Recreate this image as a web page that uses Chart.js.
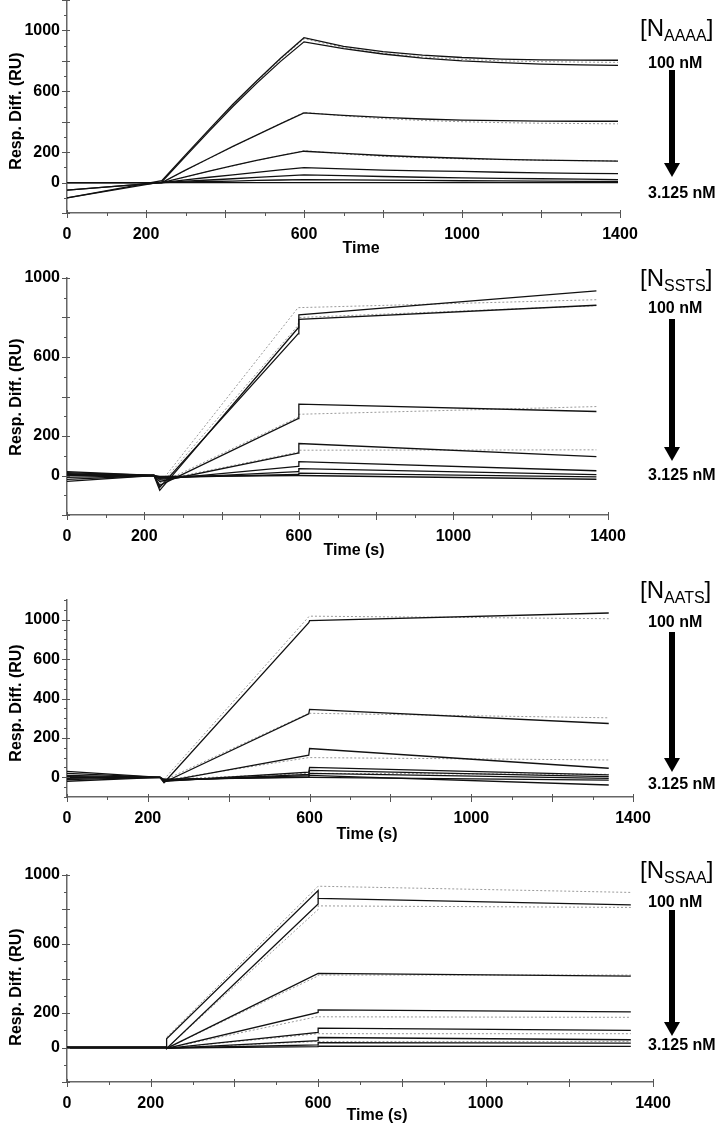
<!DOCTYPE html>
<html>
<head>
<meta charset="utf-8">
<script src="https://cdn.jsdelivr.net/npm/chart.js@4.4.0/dist/chart.umd.min.js"></script>
<style>
  body { margin: 0; background: #fff; width: 722px; height: 1123px; position: relative; overflow: hidden;
         font-family: "Liberation Sans", Arial, sans-serif; }
  canvas { position: absolute; left: 0; }
  .lbl { position: absolute; font-weight: bold; font-size: 16px; line-height: 16px; white-space: nowrap; }
  .name { position: absolute; left: 640px; font-size: 24px; line-height: 24px; white-space: nowrap; }
  .name sub { font-size: 16px; vertical-align: -5px; line-height: 0; }
  .shaft { position: absolute; left: 669px; width: 6px; background: #000; }
  .head { position: absolute; left: 664px; width: 0; height: 0;
          border-left: 8px solid transparent; border-right: 8px solid transparent; border-top: 14px solid #000; }
  .ttl { position: absolute; font-weight: bold; font-size: 16px; line-height: 16px; white-space: nowrap;
         transform: translate(-50%, -50%); }
  .ttl.rot { transform: translate(-50%, -50%) rotate(-90deg); }
</style>
</head>
<body>
<canvas id="c1" width="722" height="255"></canvas>
<canvas id="c2" width="722" height="279"></canvas>
<canvas id="c3" width="722" height="239"></canvas>
<canvas id="c4" width="722" height="249"></canvas>
<script>
// x axis (all panels)
const xTicks = [0, 100, 200, 300, 400, 500, 600, 700, 800, 900, 1000, 1100, 1200, 1300, 1400];
const xLabels = [0, 200, 600, 1000, 1400];

// ---- panel 1: N_AAAA ----
const aaaaTime = [0, 240, 300, 360, 420, 480, 540, 600, 700, 800, 900, 1000, 1100, 1200, 1300, 1395];
const aaaa100a = [-100, 12, 182, 350, 515, 668, 815, 952, 895, 860, 838, 822, 812, 807, 805, 804];
const aaaa100b = [-100, 5, 172, 338, 500, 652, 795, 925, 880, 845, 818, 800, 788, 779, 773, 770];
const aaaa50 = [-50, 0, 82, 160, 238, 312, 386, 458, 442, 428, 418, 411, 407, 404, 403, 403];
const aaaa25 = [-50, 0, 38, 76, 112, 146, 177, 206, 192, 178, 168, 160, 153, 148, 144, 141];
const aaaa12 = [0, 0, 18, 35, 51, 67, 83, 98, 90, 82, 77, 73, 68, 64, 61, 59];
const aaaa6 = [0, 0, 9, 17, 25, 34, 42, 50, 45, 40, 35, 31, 28, 25, 22, 20];
const aaaa3 = [0, 0, 4, 7, 10, 14, 17, 20, 18, 16, 14, 12, 11, 9, 8, 7];
const aaaa0 = [0, 0, 0, 0, 0, 0, 0, 0, 0, 0, 0, 0, 0, 0, 0, 0];
const aaaaObs100 = [null, 10, 178, 345, 510, 662, 808, 945, 888, 850, 826, 810, 800, 795, 792, 790];
const aaaaObs50 = [null, 0, 80, 158, 236, 312, 388, 462, 438, 420, 408, 400, 394, 390, 388, 386];
const aaaaObs25 = [null, 0, 37, 75, 110, 145, 178, 210, 188, 172, 163, 156, 151, 147, 144, 142];
const aaaaYTicks = [-200, -100, 0, 100, 200, 300, 400, 500, 600, 700, 800, 900, 1000, 1100, 1200];
const aaaaYLabels = [0, 200, 600, 1000];
const aaaaYText = ['0', '200', '600', '1000'];

// ---- panel 2: N_SSTS ----
const sstsTime = [0, 225, 240, 598, 600, 1370];
const ssts100a = [20, 0, -75, 747, 814, 935];
const ssts100b = [-30, 0, -60, 717, 791, 862];
const ssts50 = [10, 0, -50, 288, 361, 324];
const ssts25 = [0, 0, -30, 113, 162, 96];
const ssts12 = [-10, 0, -20, 46, 70, 24];
const ssts6 = [-20, 0, -15, 20, 35, 4];
const ssts3 = [5, 0, -10, 5, 12, -7];
const ssts0 = [15, 0, -5, 0, 0, -19];
const sstsObsTime = [240, 598, 600, 1370];
const sstsObs100a = [-40, 850, 850, 890];
const sstsObs100b = [-50, 760, 800, 860];
const sstsObs50 = [-40, 295, 310, 349];
const sstsObs25 = [-25, 118, 128, 130];
const sstsYTicks = [-200, -100, 0, 100, 200, 300, 400, 500, 600, 700, 800, 900, 1000];
const sstsYLabels = [0, 200, 600, 1000];
const sstsYText = ['0', '200', '600', '1000'];

// ---- panel 3: N_AATS ----
const aatsTime = [0, 230, 240, 598, 600, 1340];
const aats100 = [30, 0, -27, 785, 795, 834];
const aats50 = [20, 0, -25, 322, 345, 273];
const aats25 = [10, 0, -22, 112, 146, 46];
const aats12 = [3, 0, -20, 26, 50, 12];
const aats6 = [-5, 0, -18, 15, 35, 3];
const aats3 = [-12, 0, -15, 8, 20, -5];
const aatsB = [0, 0, -10, 0, 0, -14];
const aats0 = [-20, 0, -12, 2, 10, -39];
const aatsObsTime = [240, 598, 600, 1340];
const aatsObs100 = [-10, 815, 818, 805];
const aatsObs50 = [-15, 325, 325, 302];
const aatsObs25 = [-15, 100, 100, 88];
const aatsObs12 = [-10, 20, 20, 15];
const aatsYTicks = [-100, -50, 0, 50, 100, 150, 200, 250, 300, 350, 400, 450, 500, 550, 600, 650, 700, 750, 800, 850, 900];
const aatsYLabels = [0, 200, 400, 600, 800];
const aatsYText = ['0', '200', '400', '600', '1000'];

// ---- panel 4: N_SSAA ----
const ssaaTime = [0, 238, 238, 600, 600, 1347];
const ssaa100a = [0, 0, 50, 910, 865, 827];
const ssaa100b = [0, 0, -5, 832, 865, null];
const ssaa50 = [0, 0, -5, 430, 430, 414];
const ssaa25 = [0, 0, -5, 203, 218, 206];
const ssaa12 = [0, 0, -5, 88, 112, 99];
const ssaa6 = [0, 0, -5, 40, 58, 45];
const ssaa3 = [0, 0, -3, 15, 28, 25];
const ssaa0 = [0, 0, -3, 5, 8, 6];
const ssaaObsTime = [238, 600, 600, 1347];
const ssaaObs100a = [60, 935, 935, 899];
const ssaaObs100b = [-5, 800, 821, 812];
const ssaaObs50 = [-5, 415, 420, 420];
const ssaaObs25 = [-5, 180, 178, 175];
const ssaaObs12 = [-5, 80, 80, 80];
const ssaaObs6 = [-5, 35, 35, 35];
const ssaaYTicks = [-200, -100, 0, 100, 200, 300, 400, 500, 600, 700, 800, 900, 1000];
const ssaaYLabels = [0, 200, 600, 1000];
const ssaaYText = ['0', '200', '600', '1000'];

const FONT = '"Liberation Sans", Arial, sans-serif';
const FIT = '#111';
const OBS = '#9a9a9a';

function fit(times, vals) {
  return { data: times.map((t, i) => ({ x: t, y: vals[i] })), borderColor: FIT, borderWidth: 1.3,
           pointRadius: 0, tension: 0, fill: false, order: 0 };
}
function obs(times, vals) {
  return { data: times.map((t, i) => ({ x: t, y: vals[i] })), borderColor: OBS, borderWidth: 1,
           borderDash: [2, 2], pointRadius: 0, tension: 0, fill: false, order: 1 };
}

// small tick marks crossing the axes
const crossTicks = {
  id: 'crossTicks',
  afterDraw(chart) {
    const { ctx, scales: { x, y } } = chart;
    ctx.save();
    ctx.strokeStyle = '#555';
    ctx.lineWidth = 1;
    ctx.beginPath();
    x.ticks.forEach(t => {
      const px = Math.round(x.getPixelForValue(t.value)) + 0.5;
      const major = t.value % 200 === 0;
      ctx.moveTo(px, x.top - (major ? 3 : 0));
      ctx.lineTo(px, x.top + (major ? 5 : 3));
    });
    y.ticks.forEach(t => {
      const py = Math.round(y.getPixelForValue(t.value)) + 0.5;
      const major = t.value % 200 === 0;
      ctx.moveTo(y.right - (major ? 5 : 3), py);
      ctx.lineTo(y.right + (major ? 3 : 0), py);
    });
    ctx.stroke();
    ctx.restore();
  }
};

const panels = [
  { id: 'c1', top: 0, bottom: 213, right: 620, yMin: -200, yMax: 1200,
    yTicks: aaaaYTicks, yLabels: aaaaYLabels, yText: aaaaYText, sub: 'AAAA', xTitle: 'Time',
    xt: [361, 248], yt: 111, nameY: 30, n100: 63, n3: 193, shaft: [70, 163],
    datasets: [
      fit(aaaaTime, aaaa100a), fit(aaaaTime, aaaa100b), fit(aaaaTime, aaaa50), fit(aaaaTime, aaaa25),
      fit(aaaaTime, aaaa12), fit(aaaaTime, aaaa6), fit(aaaaTime, aaaa3), fit(aaaaTime, aaaa0),
      obs(aaaaTime, aaaaObs100), obs(aaaaTime, aaaaObs50), obs(aaaaTime, aaaaObs25)
    ] },
  { id: 'c2', top: 278, bottom: 515, right: 608, yMin: -200, yMax: 1000,
    yTicks: sstsYTicks, yLabels: sstsYLabels, yText: sstsYText, sub: 'SSTS', xTitle: 'Time (s)',
    xt: [354, 550], yt: 397, nameY: 280, n100: 308, n3: 475, shaft: [319, 447],
    datasets: [
      fit(sstsTime, ssts100a), fit(sstsTime, ssts100b), fit(sstsTime, ssts50), fit(sstsTime, ssts25),
      fit(sstsTime, ssts12), fit(sstsTime, ssts6), fit(sstsTime, ssts3), fit(sstsTime, ssts0),
      obs(sstsObsTime, sstsObs100a), obs(sstsObsTime, sstsObs100b), obs(sstsObsTime, sstsObs50),
      obs(sstsObsTime, sstsObs25)
    ] },
  { id: 'c3', top: 600, bottom: 797, right: 633, yMin: -100, yMax: 900,
    yTicks: aatsYTicks, yLabels: aatsYLabels, yText: aatsYText, sub: 'AATS', xTitle: 'Time (s)',
    xt: [367, 834], yt: 703, nameY: 592, n100: 622, n3: 784, shaft: [632, 758],
    datasets: [
      fit(aatsTime, aats100), fit(aatsTime, aats50), fit(aatsTime, aats25), fit(aatsTime, aats12),
      fit(aatsTime, aats6), fit(aatsTime, aats3), fit(aatsTime, aatsB), fit(aatsTime, aats0),
      obs(aatsObsTime, aatsObs100), obs(aatsObsTime, aatsObs50), obs(aatsObsTime, aatsObs25),
      obs(aatsObsTime, aatsObs12)
    ] },
  { id: 'c4', top: 875, bottom: 1082, right: 653, yMin: -200, yMax: 1000,
    yTicks: ssaaYTicks, yLabels: ssaaYLabels, yText: ssaaYText, sub: 'SSAA', xTitle: 'Time (s)',
    xt: [377, 1115], yt: 987, nameY: 872, n100: 902, n3: 1045, shaft: [910, 1022],
    datasets: [
      fit(ssaaTime, ssaa100a), fit(ssaaTime, ssaa100b), fit(ssaaTime, ssaa50), fit(ssaaTime, ssaa25),
      fit(ssaaTime, ssaa12), fit(ssaaTime, ssaa6), fit(ssaaTime, ssaa3), fit(ssaaTime, ssaa0),
      obs(ssaaObsTime, ssaaObs100a), obs(ssaaObsTime, ssaaObs100b), obs(ssaaObsTime, ssaaObs50),
      obs(ssaaObsTime, ssaaObs25), obs(ssaaObsTime, ssaaObs12), obs(ssaaObsTime, ssaaObs6)
    ] }
];

const PAD_TOP = 12, X_H = 30, Y_W = 67;

function addEl(cls, html, styles) {
  const d = document.createElement('div');
  d.className = cls;
  d.innerHTML = html;
  Object.assign(d.style, styles);
  document.body.appendChild(d);
}

panels.forEach(p => {
  const cv = document.getElementById(p.id);
  cv.style.top = (p.top - PAD_TOP) + 'px';

  new Chart(cv, {
    type: 'line',
    data: { datasets: p.datasets },
    plugins: [crossTicks],
    options: {
      responsive: false,
      animation: false,
      devicePixelRatio: 1,
      layout: { padding: { top: PAD_TOP, right: 722 - p.right, left: 0, bottom: 0 } },
      plugins: { legend: { display: false }, tooltip: { enabled: false } },
      scales: {
        x: {
          type: 'linear', min: 0, max: 1400,
          afterBuildTicks: s => { s.ticks = xTicks.map(v => ({ value: v })); },
          afterFit: s => { s.height = X_H; s.paddingLeft = 0; s.paddingRight = 0; },
          grid: { drawOnChartArea: false, drawTicks: false },
          border: { color: '#666', width: 1.5 },
          ticks: {
            autoSkip: false, maxRotation: 0, padding: 12, color: '#000',
            font: { family: FONT, size: 16, weight: 'bold' },
            callback: v => xLabels.includes(v) ? String(v) : ''
          }
        },
        y: {
          type: 'linear', min: p.yMin, max: p.yMax,
          afterBuildTicks: s => { s.ticks = p.yTicks.map(v => ({ value: v })); },
          afterFit: s => { s.width = Y_W; s.paddingTop = 0; s.paddingBottom = 0; },
          grid: { drawOnChartArea: false, drawTicks: false },
          border: { color: '#666', width: 1.5 },
          ticks: {
            autoSkip: false, padding: 7, color: '#000',
            font: { family: FONT, size: 16, weight: 'bold' },
            callback: v => {
              const i = p.yLabels.indexOf(v);
              return i >= 0 ? p.yText[i] : '';
            }
          }
        }
      }
    }
  });

  // axis titles
  addEl('ttl', p.xTitle, { left: p.xt[0] + 'px', top: p.xt[1] + 'px' });
  addEl('ttl rot', 'Resp. Diff. (RU)', { left: '16px', top: p.yt + 'px' });

  // concentration annotation on the right
  addEl('name', '[N<sub>' + p.sub + '</sub>]', { top: (p.nameY - 14) + 'px' });
  addEl('lbl', '100 nM', { left: '648px', top: (p.n100 - 8) + 'px' });
  addEl('lbl', '3.125 nM', { left: '648px', top: (p.n3 - 8) + 'px' });
  addEl('shaft', '', { top: p.shaft[0] + 'px', height: (p.shaft[1] - p.shaft[0]) + 'px' });
  addEl('head', '', { top: p.shaft[1] + 'px' });
});
</script>
</body>
</html>
